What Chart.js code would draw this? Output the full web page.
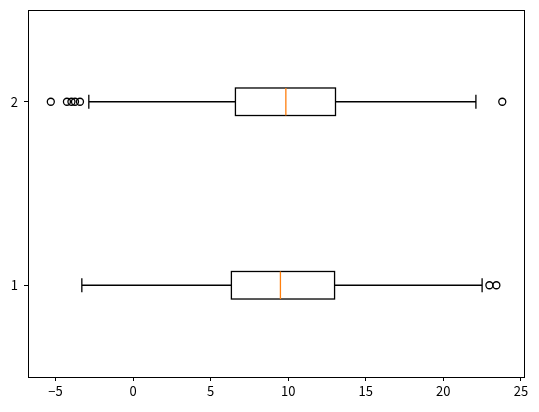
<!DOCTYPE html>
<html>
<head>
<meta charset="utf-8">
<script src="https://cdn.jsdelivr.net/npm/chart.js@4.4.0/dist/chart.umd.min.js"></script>
<style>
  html, body { margin: 0; padding: 0; background: #fff; }
</style>
</head>
<body>
<canvas id="boxChart" width="539" height="412"></canvas>
<script>
var positions = [1, 2];
var categories = ['1', '2'];
var whiskerLow = [-3.3, -2.85];
var q1 = [6.34, 6.6];
var median = [9.5, 9.85];
var q3 = [12.99, 13.05];
var whiskerHigh = [22.5, 22.1];
var outliers = [
  [22.97, 23.42],
  [-5.3, -4.26, -3.97, -3.74, -3.42, 23.8]
];
var xTicks = [-5, 0, 5, 10, 15, 20, 25];

// flier points for the scatter dataset
var flierPoints = [];
outliers.forEach(function (list, i) {
  list.forEach(function (v) { flierPoints.push({ x: v, y: positions[i] }); });
});

var font = { family: "'Noto Sans CJK JP', 'DejaVu Sans', sans-serif", size: 13 };
var lw = 1.3;

// draws boxes, whiskers, caps, medians and the frame using the chart scales
var boxPlugin = {
  id: 'boxes',
  afterDatasetsDraw: function (chart) {
    var ctx = chart.ctx;
    var xs = chart.scales.x, ys = chart.scales.y;
    var half = 0.075, capHalf = 0.0375;
    ctx.save();
    ctx.lineWidth = lw;
    positions.forEach(function (p, i) {
      var yTop = ys.getPixelForValue(p + half);
      var yBot = ys.getPixelForValue(p - half);
      var yMid = ys.getPixelForValue(p);
      var cTop = ys.getPixelForValue(p + capHalf);
      var cBot = ys.getPixelForValue(p - capHalf);
      var xLo = xs.getPixelForValue(whiskerLow[i]);
      var xQ1 = xs.getPixelForValue(q1[i]);
      var xMed = xs.getPixelForValue(median[i]);
      var xQ3 = xs.getPixelForValue(q3[i]);
      var xHi = xs.getPixelForValue(whiskerHigh[i]);

      ctx.strokeStyle = '#000';
      ctx.beginPath();
      // whiskers
      ctx.moveTo(xLo, yMid); ctx.lineTo(xQ1, yMid);
      ctx.moveTo(xQ3, yMid); ctx.lineTo(xHi, yMid);
      // caps
      ctx.moveTo(xLo, cTop); ctx.lineTo(xLo, cBot);
      ctx.moveTo(xHi, cTop); ctx.lineTo(xHi, cBot);
      ctx.stroke();
      // box
      ctx.strokeRect(xQ1, yTop, xQ3 - xQ1, yBot - yTop);
      // median
      ctx.strokeStyle = '#ff7f0e';
      ctx.beginPath();
      ctx.moveTo(xMed, yTop); ctx.lineTo(xMed, yBot);
      ctx.stroke();
    });
    // frame
    var a = chart.chartArea;
    ctx.strokeStyle = '#000';
    ctx.lineWidth = 1;
    ctx.strokeRect(Math.round(a.left) + 0.5, Math.round(a.top) + 0.5,
      Math.round(a.right - a.left), Math.round(a.bottom - a.top));
    ctx.restore();
  }
};

var ctx = document.getElementById('boxChart').getContext('2d');
var boxChart = new Chart(ctx, {
  type: 'scatter',
  data: {
    datasets: [{
      label: 'fliers',
      data: flierPoints,
      pointStyle: 'circle',
      pointRadius: 3.5,
      pointHoverRadius: 3.5,
      pointBorderWidth: lw,
      pointBorderColor: '#000',
      pointBackgroundColor: 'rgba(0,0,0,0)'
    }]
  },
  options: {
    responsive: false,
    animation: false,
    devicePixelRatio: 1,
    layout: { padding: { top: 10, right: 15, left: 0, bottom: 0 } },
    scales: {
      x: {
        type: 'linear',
        min: -6.77,
        max: 25.2,
        afterBuildTicks: function (axis) {
          axis.ticks = xTicks.map(function (v) { return { value: v }; });
        },
        afterFit: function (axis) { axis.height = 35; },
        grid: { display: true, drawOnChartArea: false, drawTicks: true, tickLength: 4, color: '#000' },
        border: { display: true, color: '#000' },
        ticks: {
          color: '#000', font: font, padding: 2,
          maxRotation: 0,
          callback: function (v) { return v < 0 ? '\u2212' + Math.abs(v) : String(v); }
        }
      },
      y: {
        type: 'linear',
        min: 0.5,
        max: 2.5,
        afterBuildTicks: function (axis) {
          axis.ticks = positions.map(function (v) { return { value: v }; });
        },
        afterFit: function (axis) {
          axis.width = 28;
          axis.paddingTop = 0;
          axis.paddingBottom = 0;
        },
        grid: { display: true, drawOnChartArea: false, drawTicks: true, tickLength: 4, color: '#000' },
        border: { display: true, color: '#000' },
        ticks: {
          color: '#000', font: font, padding: 6,
          callback: function (v) { return categories[positions.indexOf(v)]; }
        }
      }
    },
    plugins: {
      legend: { display: false },
      tooltip: { enabled: false }
    }
  },
  plugins: [boxPlugin]
});
</script>
</body>
</html>
